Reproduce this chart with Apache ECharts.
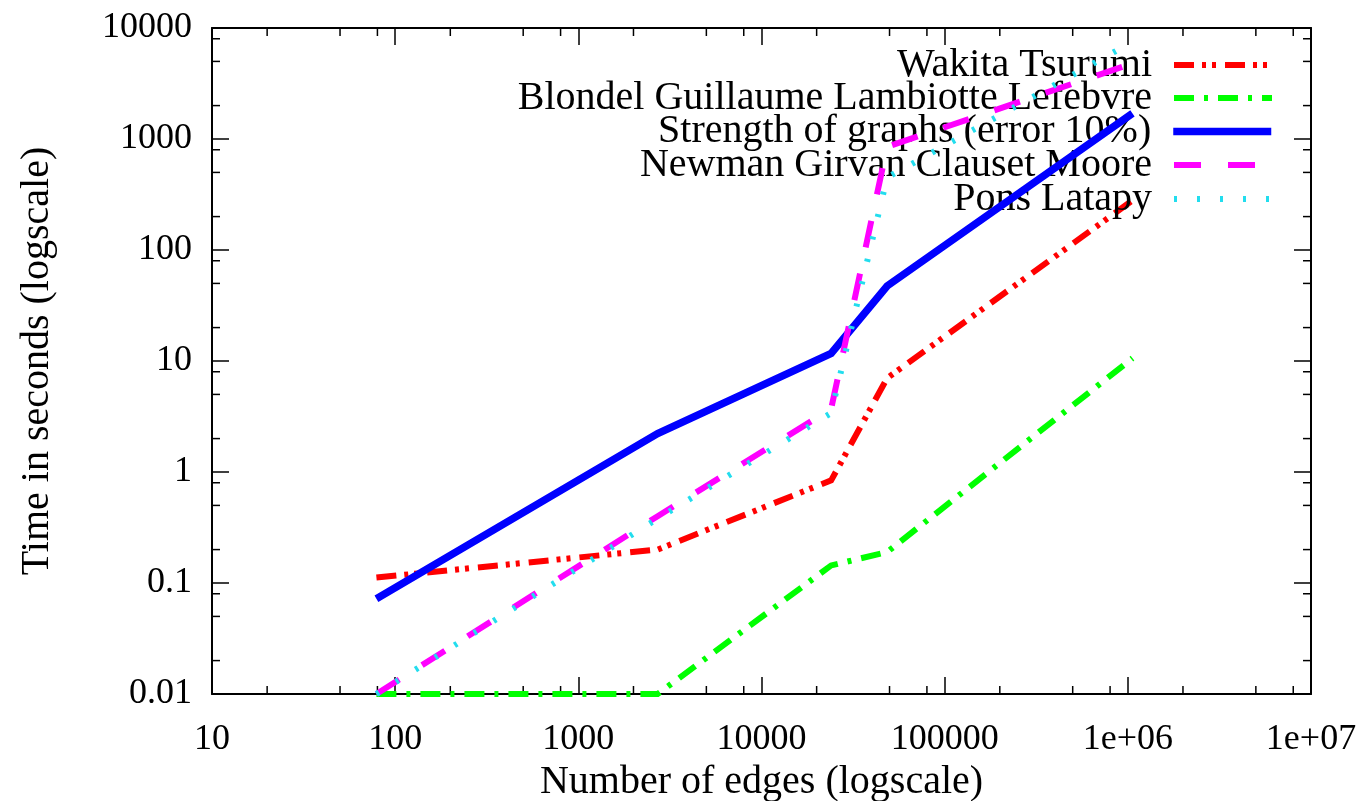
<!DOCTYPE html>
<html><head><meta charset="utf-8">
<script src="https://cdn.jsdelivr.net/npm/echarts@6/dist/echarts.min.js"></script>
<style>html,body{margin:0;padding:0;background:#fff}#c{width:1369px;height:801px}</style>
</head><body><div id="c"></div>
<script>
// ---- data ----
const edges = [79, 2710, 24000, 48500, 1060000];
const seriesNames = [
  'Wakita Tsurumi',
  'Blondel Guillaume Lambiotte Lefebvre',
  'Strength of graphs (error 10%)',
  'Newman Girvan Clauset Moore',
  'Pons Latapy'
];
const wakita   = [0.112, 0.2, 0.84, 7, 280];
const blondel  = [0.01, 0.01, 0.144, 0.19, 10.6];
const strength = [0.072, 2.22, 11.7, 47.4, 1700];
const newman   = [0.01, 0.4, 3.7, 850, 4800];
const pons     = [0.01, 0.38, 3.4, 450, 7500];
const xTickLabels = ['10', '100', '1000', '10000', '100000', '1e+06', '1e+07'];
const yTickLabels = ['0.01', '0.1', '1', '10', '100', '1000', '10000'];
const xMinorTicks = [20, 50, 80, 200, 500, 800, 2000, 5000, 8000, 20000, 50000, 80000,
  200000, 500000, 800000, 2000000, 5000000, 8000000];
const yMinorTicks = [0.02, 0.05, 0.08, 0.2, 0.5, 0.8, 2, 5, 8, 20, 50, 80, 200, 500, 800,
  2000, 5000, 8000];
const xAxisTitle = 'Number of edges (logscale)';
const yAxisTitle = 'Time in seconds (logscale)';

// ---- styling ----
const FONT = '"Liberation Serif", "DejaVu Serif", serif';
const X_MIN = 10, X_MAX = 1e7, Y_MIN = 0.01, Y_MAX = 10000;
const colors = ['#ff0000', '#00ff00', '#0000ff', '#ff00ff', '#22ddee'];
const widths = [6, 6, 7.5, 6, 6];
const dashes = [[20, 8, 4, 6, 4, 9], [20, 10, 4, 10], 'solid', [27, 27], [3, 20]];
const values = [wakita, blondel, strength, newman, pons];
const rowCenters = [62, 95, 128.5, 162, 196];

const chart = echarts.init(document.getElementById('c'), null, {renderer: 'canvas'});

function xFmt(v) { return xTickLabels[Math.round(Math.log10(v)) - 1]; }
function yFmt(v) { return yTickLabels[Math.round(Math.log10(v)) + 2]; }

const axisLine = {show: true, onZero: false, lineStyle: {color: '#000', width: 2}};
const axisTick = {show: true, inside: true, length: 17, lineStyle: {color: '#000', width: 1.5}};

const lineSeries = seriesNames.map((n, i) => ({
  name: n, type: 'line', symbol: 'none', showSymbol: false,
  data: edges.map((x, j) => [x, values[i][j]]),
  lineStyle: {color: colors[i], width: widths[i], type: dashes[i], cap: 'butt', join: 'miter'},
  itemStyle: {color: colors[i]},
  z: 3 + i, animation: false
}));

const minorX = {
  type: 'custom', silent: true, z: 2,
  data: xMinorTicks.map(v => [v, Y_MIN]),
  renderItem: function (params, api) {
    const x = api.value(0);
    const b = api.coord([x, Y_MIN]);
    const t = api.coord([x, Y_MAX]);
    const st = {stroke: '#000', lineWidth: 1.5};
    return {type: 'group', children: [
      {type: 'line', shape: {x1: b[0], y1: b[1], x2: b[0], y2: b[1] - 8}, style: st},
      {type: 'line', shape: {x1: t[0], y1: t[1], x2: t[0], y2: t[1] + 8}, style: st}
    ]};
  },
  clip: false, animation: false
};
const minorY = {
  type: 'custom', silent: true, z: 2,
  data: yMinorTicks.map(v => [X_MIN, v]),
  renderItem: function (params, api) {
    const y = api.value(1);
    const l = api.coord([X_MIN, y]);
    const r = api.coord([X_MAX, y]);
    const st = {stroke: '#000', lineWidth: 1.5};
    return {type: 'group', children: [
      {type: 'line', shape: {x1: l[0], y1: l[1], x2: l[0] + 8, y2: l[1]}, style: st},
      {type: 'line', shape: {x1: r[0], y1: r[1], x2: r[0] - 8, y2: r[1]}, style: st}
    ]};
  },
  clip: false, animation: false
};

const legends = seriesNames.map((n, i) => ({
  data: [n], orient: 'horizontal', align: 'right', padding: 0,
  right: 94, top: rowCenters[i] - 17,
  itemWidth: 98, itemHeight: 14, selectedMode: false,
  textStyle: {fontFamily: FONT, fontSize: 40, color: '#000', lineHeight: 34, padding: [0, 17, 0, 0]},
  lineStyle: {width: widths[i], type: dashes[i], color: colors[i], cap: 'butt'},
  itemStyle: {color: 'rgba(0,0,0,0)', borderColor: 'rgba(0,0,0,0)', borderWidth: 0, opacity: 0}
}));

chart.setOption({
  backgroundColor: '#fff',
  animation: false,
  grid: {left: 212, right: 58, top: 28, bottom: 107, containLabel: false, outerBoundsMode: 'none'},
  legend: legends,
  xAxis: [
    {type: 'log', logBase: 10, min: X_MIN, max: X_MAX, splitNumber: 6, position: 'bottom',
     axisLine: axisLine, axisTick: axisTick, splitLine: {show: false},
     axisLabel: {formatter: xFmt, fontFamily: FONT, fontSize: 36, color: '#000', margin: 28,
                 showMinLabel: true, showMaxLabel: true},
     name: xAxisTitle, nameLocation: 'middle', nameGap: 54,
     nameTextStyle: {fontFamily: FONT, fontSize: 40, color: '#000'}},
    {type: 'log', logBase: 10, min: X_MIN, max: X_MAX, splitNumber: 6, position: 'top',
     axisLine: axisLine, axisTick: axisTick, splitLine: {show: false}, axisLabel: {show: false}}
  ],
  yAxis: [
    {type: 'log', logBase: 10, min: Y_MIN, max: Y_MAX, splitNumber: 6, position: 'left',
     axisLine: axisLine, axisTick: axisTick, splitLine: {show: false},
     axisLabel: {formatter: yFmt, fontFamily: FONT, fontSize: 36, color: '#000', margin: 20,
                 showMinLabel: true, showMaxLabel: true},
     name: yAxisTitle, nameLocation: 'middle', nameGap: 155,
     nameTextStyle: {fontFamily: FONT, fontSize: 40, color: '#000'}},
    {type: 'log', logBase: 10, min: Y_MIN, max: Y_MAX, splitNumber: 6, position: 'right',
     axisLine: axisLine, axisTick: axisTick, splitLine: {show: false}, axisLabel: {show: false}}
  ],
  series: [minorX, minorY].concat(lineSeries)
});
</script>
</body></html>
